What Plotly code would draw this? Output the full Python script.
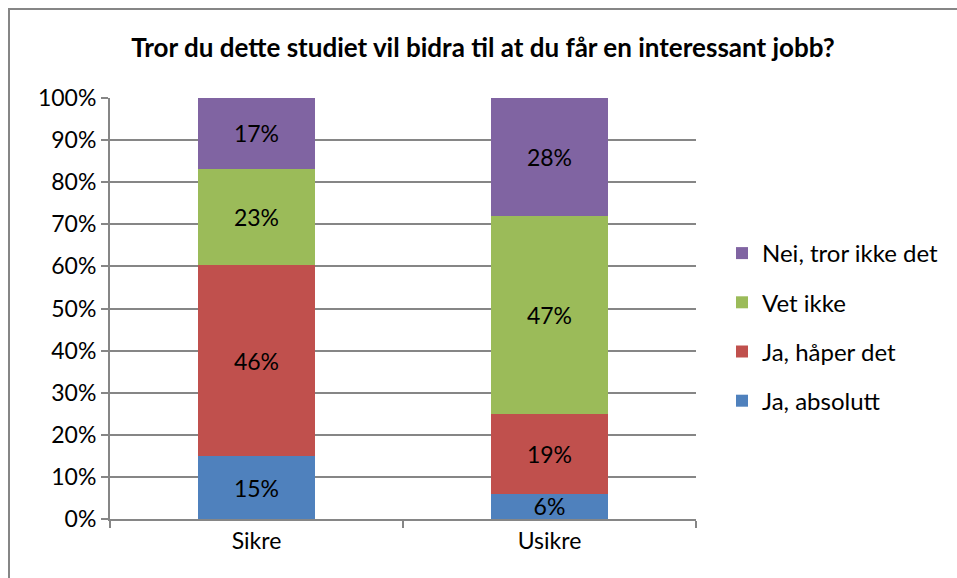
import plotly.graph_objects as go

categories = ["Sikre", "Usikre"]
series_names = ["Ja, absolutt", "Ja, håper det", "Vet ikke", "Nei, tror ikke det"]
series_values = [
    [15, 6],
    [46, 19],
    [23, 47],
    [17, 28],
]
series_colors = ["#4F81BD", "#C0504D", "#9BBB59", "#8064A2"]
y_ticks = [0, 10, 20, 30, 40, 50, 60, 70, 80, 90, 100]

FONT = "Lato"
FS = 23
GRID = "#868686"

W, H = 957, 578
L, R, T, B = 110, 261, 98, 59
pw, ph = W - L - R, H - T - B

def px_x(x):
    return (x - L) / pw

def px_y(y):
    return (H - B - y) / ph

fig = go.Figure()
n = len(series_names)
for i, (name, vals, col) in enumerate(zip(series_names, series_values, series_colors)):
    fig.add_trace(go.Bar(
        x=categories, y=vals, name=name,
        marker=dict(color=col, line=dict(width=0)),
        text=[f"{v}%" for v in vals],
        textposition="inside", insidetextanchor="middle", textangle=0,
        textfont=dict(family=FONT, size=FS, color="#000000"),
        legendgroup=name, legendrank=n - i,
        hoverinfo="skip",
    ))

fig.update_layout(
    width=W, height=H, autosize=False,
    margin=dict(l=L, r=R, t=T, b=B),
    paper_bgcolor="white", plot_bgcolor="white",
    barmode="stack", barnorm="percent", bargap=0.6,
    uniformtext=dict(minsize=FS, mode="show"),
    font=dict(family=FONT, size=FS, color="#000000"),
    title=dict(
        text="<b>Tror du dette studiet vil bidra til at du får en interessant jobb?</b>",
        x=px_x(483), xref="paper", xanchor="center",
        y=1 - 48 / H, yref="container", yanchor="middle",
        font=dict(family=FONT, size=26, color="#000000"),
    ),
    legend=dict(
        x=px_x(722), y=px_y(231), xanchor="left", yanchor="top",
        traceorder="grouped", tracegroupgap=15,
        font=dict(family=FONT, size=24, color="#000000"),
        bgcolor="rgba(0,0,0,0)",
    ),
    xaxis=dict(
        showline=True, linecolor=GRID, linewidth=2,
        ticks="outside", tickson="boundaries", ticklen=7, tickcolor=GRID, tickwidth=2,
        showgrid=False, tickfont=dict(family=FONT, size=FS),
    ),
    yaxis=dict(
        range=[0, 100], tickvals=y_ticks, ticktext=[f"{v}%" for v in y_ticks],
        showline=True, linecolor=GRID, linewidth=2,
        ticks="outside", ticklen=7, tickcolor=GRID, tickwidth=2,
        showgrid=True, gridcolor=GRID, gridwidth=2,
        zeroline=False, tickfont=dict(family=FONT, size=FS),
    ),
    shapes=[dict(
        type="rect", xref="paper", yref="paper",
        x0=px_x(9), x1=px_x(W + 5), y0=px_y(H + 5), y1=px_y(9),
        line=dict(color=GRID, width=2), fillcolor="rgba(0,0,0,0)", layer="below",
    )],
)

fig.write_html("out.html")
